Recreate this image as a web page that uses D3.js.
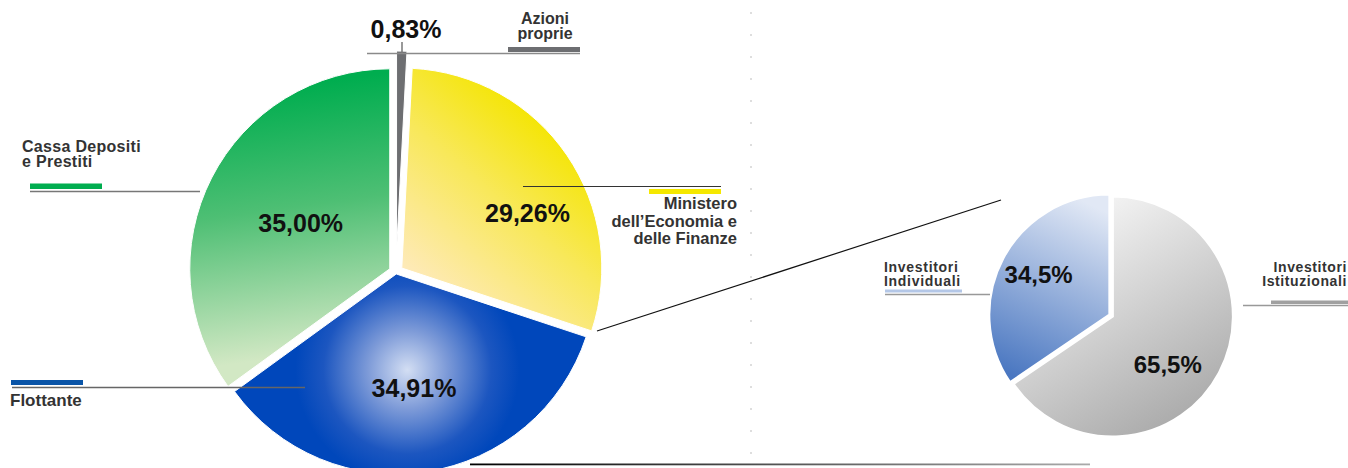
<!DOCTYPE html>
<html lang="it">
<head>
<meta charset="UTF-8">
<title>Azionariato</title>
<script src="https://d3js.org/d3.v7.min.js"></script>
<style>
    body { margin: 0; background: #fff; }
    svg { display: block; font-family: "Liberation Sans", Arial, sans-serif; font-weight: bold; }
    .pct { fill: #111; font-size: 25px; text-anchor: middle; }
    .lbl { fill: #333; font-size: 16.5px; }
</style>
</head>
<body>
<script>
// main pie: share of capital (clockwise from 12 o'clock)
var mainNames = ["Azioni proprie", "Ministero dell'Economia e delle Finanze", "Flottante", "Cassa Depositi e Prestiti"];
var mainValues = [0.83, 29.26, 34.91, 35.00];
var mainText = ["0,83%", "29,26%", "34,91%", "35,00%"];

// breakdown of the float
var floatNames = ["Investitori Istituzionali", "Investitori Individuali"];
var floatValues = [65.5, 34.5];
var floatText = ["65,5%", "34,5%"];

var width = 1348, height = 468;
var cx = 396, cy = 272, r = 200;
var cx2 = 1112, cy2 = 316, r2 = 120;

var svg = d3.select("body").append("svg")
    .attr("width", width)
    .attr("height", height);

var defs = svg.append("defs");

// gradients are given in page pixels, moved into the pie's own space by (ox, oy)
function linear(id, x1, y1, x2, y2, stops, ox, oy) {
    var g = defs.append("linearGradient").attr("id", id)
        .attr("gradientUnits", "userSpaceOnUse")
        .attr("x1", x1 - ox).attr("y1", y1 - oy).attr("x2", x2 - ox).attr("y2", y2 - oy);
    stops.forEach(function (s) {
        g.append("stop").attr("offset", s[0]).attr("stop-color", s[1]);
    });
}

linear("gGreen", 335, 80, 372, 345, [[0, "#00ad4f"], [0.45, "#4ebf74"], [1, "#d2e8c4"]], cx - 6, cy - 3);
linear("gYellow", 560, 130, 425, 285, [[0, "#f4e500"], [0.45, "#f8e85a"], [1, "#feeab8"]], cx + 6, cy - 4);
linear("gBlue2", 1090, 205, 1010, 375, [[0, "#e1e8f5"], [1, "#4a77c1"]], cx2 - 3, cy2 - 1);
linear("gGrey2", 1060, 215, 1190, 430, [[0, "#f6f6f6"], [1, "#a7a7a7"]], cx2, cy2 + 1);
linear("gBottom", 470, 0, 1090, 0, [[0, "#000"], [1, "#aaa"]], 0, 0);

var rg = defs.append("radialGradient").attr("id", "gBlue")
    .attr("gradientUnits", "userSpaceOnUse")
    .attr("cx", 407 - cx).attr("cy", 370 - cy - 2).attr("r", 112);
[[0, "#d3def3"], [0.35, "#7e9bd8"], [0.75, "#1c56c0"], [1, "#0047bb"]].forEach(function (s) {
    rg.append("stop").attr("offset", s[0]).attr("stop-color", s[1]);
});

// dotted separator
svg.append("line")
    .attr("x1", 751).attr("x2", 751).attr("y1", 12).attr("y2", height)
    .attr("stroke", "#bdbdbd").attr("stroke-width", 1)
    .attr("stroke-dasharray", "2,20");

// ---- main pie
var mainFill = ["#6d6e71", "url(#gYellow)", "url(#gBlue)", "url(#gGreen)"];
var explode = [21, 7, 2, 7];

var pie = d3.pie().sort(null).startAngle(0).endAngle(2 * Math.PI);
var arc = d3.arc().innerRadius(0).outerRadius(r);
var mainArcs = pie(mainValues);

function shift(d, o) {
    var a = (d.startAngle + d.endAngle) / 2;
    return [Math.sin(a) * o, -Math.cos(a) * o];
}

var gMain = svg.append("g").attr("transform", "translate(" + cx + "," + cy + ")");

gMain.selectAll("path")
    .data(mainArcs)
    .enter().append("path")
    .attr("d", arc)
    .attr("fill", function (d, i) { return mainFill[i]; })
    .attr("stroke", "#fff")
    .attr("stroke-width", 1)
    .attr("transform", function (d, i) { return "translate(" + shift(d, explode[i]) + ")"; });

// connector lines to second pie
svg.append("line")
    .attr("x1", 597).attr("y1", 331).attr("x2", 1001).attr("y2", 200)
    .attr("stroke", "#111").attr("stroke-width", 1.2);
svg.append("rect")
    .attr("x", 470).attr("y", 463.5).attr("width", 620).attr("height", 1.8)
    .attr("fill", "url(#gBottom)");

// percentages inside the slices
var labelR = [0, 144, 117, 107];
var labelTurn = [0, 0.18, 0, 0];
mainArcs.forEach(function (d, i) {
    if (i === 0) return;
    var a = (d.startAngle + d.endAngle) / 2 + labelTurn[i];
    gMain.append("text").attr("class", "pct")
        .attr("x", Math.sin(a) * labelR[i])
        .attr("y", -Math.cos(a) * labelR[i] + 9)
        .text(mainText[i]);
});

// small slice label on top
svg.append("text").attr("class", "pct")
    .attr("x", 406).attr("y", 38).text(mainText[0]);
svg.append("line").attr("x1", 402).attr("x2", 402).attr("y1", 42).attr("y2", 53)
    .attr("stroke", "#777").attr("stroke-width", 1.5);

// leader + colour bars
function leader(x1, x2, y, col, w) {
    svg.append("line").attr("x1", x1).attr("x2", x2).attr("y1", y).attr("y2", y)
        .attr("stroke", col).attr("stroke-width", w || 1.3);
}
function bar(x, y, w, h, col) {
    svg.append("rect").attr("x", x).attr("y", y).attr("width", w).attr("height", h).attr("fill", col);
}
function label(lines, x, y, step, anchor, size) {
    var t = svg.append("text").attr("class", "lbl")
        .attr("text-anchor", anchor)
        .style("font-size", size + "px");
    lines.forEach(function (s, k) {
        t.append("tspan").attr("x", x).attr("y", y + k * step).text(s);
    });
    return t;
}

// Azioni proprie
leader(367, 580, 53.5, "#8a8a8a", 1.5);
bar(508, 47, 72, 5, "#6d6e71");
label(["Azioni", "proprie"], 545, 24, 15, "middle", 16);

// Cassa Depositi e Prestiti
leader(30, 200, 191.5, "#777", 1.3);
bar(30, 183.5, 72, 5.5, "#00ad4f");
label(["Cassa Depositi", "e Prestiti"], 22, 152, 14.5, "start", 16).attr("letter-spacing", 0.3);

// Flottante
leader(12, 305, 387.5, "#666", 1.3);
bar(11, 380, 72, 5, "#0a55a8");
label(["Flottante"], 10, 406, 0, "start", 17);

// Ministero
leader(523, 721, 186.5, "#333", 1.1);
bar(649, 189, 72, 5, "#f5e800");
label(["Ministero", "dell\u2019Economia e", "delle Finanze"], 737, 209, 17.5, "end", 16.5);

// ---- second pie
var floatFill = ["url(#gGrey2)", "url(#gBlue2)"];
var explode2 = [1, 3];
var arc2 = d3.arc().innerRadius(0).outerRadius(r2);
var floatArcs = pie(floatValues);

var gFloat = svg.append("g").attr("transform", "translate(" + cx2 + "," + cy2 + ")");
gFloat.selectAll("path")
    .data(floatArcs)
    .enter().append("path")
    .attr("d", arc2)
    .attr("fill", function (d, i) { return floatFill[i]; })
    .attr("stroke", "#fff")
    .attr("stroke-width", 2)
    .attr("transform", function (d, i) { return "translate(" + shift(d, explode2[i]) + ")"; });

var labelR2 = [74, 84];
var labelTurn2 = [0.23, 0.02];
floatArcs.forEach(function (d, i) {
    var a = (d.startAngle + d.endAngle) / 2 + labelTurn2[i];
    gFloat.append("text").attr("class", "pct")
        .style("font-size", "24px")
        .attr("x", Math.sin(a) * labelR2[i])
        .attr("y", -Math.cos(a) * labelR2[i] + 8)
        .text(floatText[i]);
});

// Investitori Individuali
leader(885, 990, 294.5, "#999", 1.3);
bar(885, 289.5, 77, 3, "#b4c7e7");
label(["Investitori", "Individuali"], 884, 272, 14, "start", 14).attr("letter-spacing", 0.7);

// Investitori Istituzionali
leader(1243, width, 305.5, "#999", 1.3);
bar(1271, 300.5, 77, 3.5, "#a0a0a0");
label(["Investitori", "Istituzionali"], 1347, 272, 14, "end", 14).attr("letter-spacing", 0.6);
</script>
</body>
</html>
